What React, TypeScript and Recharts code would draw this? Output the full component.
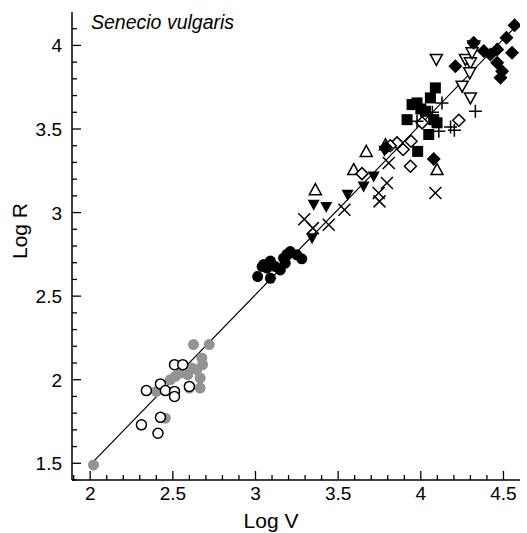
import { ScatterChart, Scatter, XAxis, YAxis, ReferenceLine } from "recharts";

// values (log V, log R)
const greyCircles = [
  { x: 2.02, y: 1.49 }, { x: 2.625, y: 2.21 }, { x: 2.72, y: 2.21 }, { x: 2.675, y: 2.13 },
  { x: 2.68, y: 2.09 }, { x: 2.645, y: 2.06 }, { x: 2.615, y: 2.07 }, { x: 2.545, y: 2.04 },
  { x: 2.515, y: 2.02 }, { x: 2.485, y: 2.0 }, { x: 2.665, y: 2.01 }, { x: 2.665, y: 1.95 },
  { x: 2.6, y: 1.95 }, { x: 2.4, y: 1.93 }, { x: 2.455, y: 1.77 }, { x: 2.565, y: 2.05 },
  { x: 2.59, y: 2.03 },
];
const openCircles = [
  { x: 2.51, y: 2.09 }, { x: 2.56, y: 2.09 }, { x: 2.425, y: 1.975 }, { x: 2.34, y: 1.935 },
  { x: 2.455, y: 1.935 }, { x: 2.51, y: 1.93 }, { x: 2.51, y: 1.9 }, { x: 2.6, y: 1.96 },
  { x: 2.425, y: 1.775 }, { x: 2.31, y: 1.73 }, { x: 2.41, y: 1.68 },
];
const blackCircles = [
  { x: 3.013, y: 2.617 }, { x: 3.09, y: 2.607 }, { x: 3.04, y: 2.677 }, { x: 3.09, y: 2.71 },
  { x: 3.07, y: 2.667 }, { x: 3.12, y: 2.677 }, { x: 3.17, y: 2.727 }, { x: 3.21, y: 2.767 },
  { x: 3.25, y: 2.747 }, { x: 3.28, y: 2.723 }, { x: 3.18, y: 2.697 }, { x: 3.15, y: 2.657 },
  { x: 3.19, y: 2.75 }, { x: 3.05, y: 2.69 },
];
const filledDownTriangles = [
  { x: 3.342, y: 2.847 }, { x: 3.352, y: 3.047 }, { x: 3.428, y: 3.033 }, { x: 3.557, y: 3.107 },
  { x: 3.654, y: 3.156 }, { x: 3.715, y: 3.216 }, { x: 3.78, y: 3.37 },
];
const crosses = [
  { x: 3.295, y: 2.96 }, { x: 3.347, y: 2.907 }, { x: 3.443, y: 2.927 }, { x: 3.538, y: 3.017 },
  { x: 3.795, y: 3.177 }, { x: 3.745, y: 3.117 }, { x: 3.75, y: 3.067 }, { x: 3.806, y: 3.297 },
  { x: 4.088, y: 3.117 },
];
const openUpTriangles = [
  { x: 3.362, y: 3.137 }, { x: 3.594, y: 3.257 }, { x: 3.67, y: 3.366 }, { x: 4.098, y: 3.257 },
  { x: 3.786, y: 3.406 },
];
const openDiamonds = [
  { x: 3.644, y: 3.233 }, { x: 3.937, y: 3.277 }, { x: 3.856, y: 3.417 }, { x: 3.893, y: 3.377 },
  { x: 3.941, y: 3.427 }, { x: 4.008, y: 3.537 }, { x: 4.23, y: 3.552 }, { x: 3.815, y: 3.4 },
];
const filledSquares = [
  { x: 4.088, y: 3.746 }, { x: 4.058, y: 3.686 }, { x: 3.947, y: 3.646 }, { x: 3.977, y: 3.656 },
  { x: 4.028, y: 3.606 }, { x: 3.917, y: 3.556 }, { x: 4.078, y: 3.556 }, { x: 4.098, y: 3.537 },
  { x: 4.048, y: 3.467 }, { x: 3.981, y: 3.366 }, { x: 4.0, y: 3.62 },
];
const plusSigns = [
  { x: 4.128, y: 3.656 }, { x: 4.109, y: 3.486 }, { x: 4.18, y: 3.512 }, { x: 4.203, y: 3.493 },
  { x: 4.33, y: 3.606 }, { x: 3.977, y: 3.547 }, { x: 4.07, y: 3.6 },
];
const openDownTriangles = [
  { x: 4.094, y: 3.916 }, { x: 4.25, y: 3.756 }, { x: 4.3, y: 3.686 }, { x: 4.27, y: 3.916 },
  { x: 4.3, y: 3.896 }, { x: 4.296, y: 3.836 }, { x: 4.32, y: 3.996 }, { x: 4.31, y: 3.956 },
];
const filledDiamonds = [
  { x: 4.209, y: 3.876 }, { x: 4.32, y: 4.016 }, { x: 4.381, y: 3.966 }, { x: 4.421, y: 3.946 },
  { x: 4.462, y: 3.896 }, { x: 4.492, y: 3.846 }, { x: 4.482, y: 3.806 }, { x: 4.552, y: 3.956 },
  { x: 4.518, y: 4.046 }, { x: 4.567, y: 4.12 }, { x: 4.462, y: 3.976 }, { x: 4.078, y: 3.321 },
  { x: 3.79, y: 3.39 },
];

// fitted line end points
const fitLine = [{ x: 2.0, y: 1.49 }, { x: 4.57, y: 4.11 }];

const xDomain = [1.89, 4.6];
const yDomain = [1.4, 4.2];
const xMajorTicks = [2, 2.5, 3, 3.5, 4, 4.5];
const yMajorTicks = [1.5, 2, 2.5, 3, 3.5, 4];
// minor ticks every 0.1
const xTicks = Array.from({ length: 27 }, (_, i) => Math.round((1.9 + i * 0.1) * 10) / 10);
const yTicks = Array.from({ length: 28 }, (_, i) => Math.round((1.4 + i * 0.1) * 10) / 10);

const FONT = "'Liberation Sans', Arial, sans-serif";
const GREY = "#939393";

const isMajor = (v: number, majors: number[]) => majors.some((m) => Math.abs(m - v) < 1e-6);

function XTick({ x, y, payload }: any) {
  const major = isMajor(payload.value, xMajorTicks);
  return (
    <g>
      <line x1={x} x2={x} y1={y} y2={y - (major ? 9 : 5)} stroke="#000" strokeWidth={1.3} />
      {major && (
        <text x={x} y={y + 20} textAnchor="middle" fontFamily={FONT} fontSize={19} fill="#000">
          {String(payload.value)}
        </text>
      )}
    </g>
  );
}

function YTick({ x, y, payload }: any) {
  const major = isMajor(payload.value, yMajorTicks);
  return (
    <g>
      <line x1={x} x2={x + (major ? 9 : 5)} y1={y} y2={y} stroke="#000" strokeWidth={1.3} />
      {major && (
        <text x={x - 10} y={y + 7} textAnchor="end" fontFamily={FONT} fontSize={19} fill="#000">
          {String(payload.value)}
        </text>
      )}
    </g>
  );
}

type Kind =
  | "greyCircle" | "openCircle" | "blackCircle" | "filledDown" | "cross" | "openUp"
  | "openDiamond" | "square" | "plus" | "openDown" | "filledDiamond";

function marker(kind: Kind) {
  return (props: any) => {
    const { cx, cy } = props;
    const sw = 1.5;
    switch (kind) {
      case "greyCircle":
        return <circle cx={cx} cy={cy} r={5.5} fill={GREY} />;
      case "openCircle":
        return <circle cx={cx} cy={cy} r={5} fill="#fff" stroke="#000" strokeWidth={sw} />;
      case "blackCircle":
        return <circle cx={cx} cy={cy} r={5.5} fill="#000" />;
      case "filledDown":
        return <path d={`M${cx - 6},${cy - 5}L${cx + 6},${cy - 5}L${cx},${cy + 6}Z`} fill="#000" />;
      case "openDown":
        return (
          <path d={`M${cx - 6},${cy - 5}L${cx + 6},${cy - 5}L${cx},${cy + 6}Z`} fill="#fff" stroke="#000" strokeWidth={sw} />
        );
      case "openUp":
        return (
          <path d={`M${cx - 6},${cy + 5}L${cx + 6},${cy + 5}L${cx},${cy - 6}Z`} fill="#fff" stroke="#000" strokeWidth={sw} />
        );
      case "cross":
        return (
          <path d={`M${cx - 6},${cy - 6}L${cx + 6},${cy + 6}M${cx - 6},${cy + 6}L${cx + 6},${cy - 6}`} stroke="#000" strokeWidth={sw} />
        );
      case "plus":
        return (
          <path d={`M${cx - 6.5},${cy}L${cx + 6.5},${cy}M${cx},${cy - 6.5}L${cx},${cy + 6.5}`} stroke="#000" strokeWidth={sw} />
        );
      case "openDiamond":
        return (
          <path d={`M${cx},${cy - 6}L${cx + 6},${cy}L${cx},${cy + 6}L${cx - 6},${cy}Z`} fill="#fff" stroke="#000" strokeWidth={sw} />
        );
      case "filledDiamond":
        return <path d={`M${cx},${cy - 7}L${cx + 7},${cy}L${cx},${cy + 7}L${cx - 7},${cy}Z`} fill="#000" />;
      case "square":
        return <rect x={cx - 5.5} y={cy - 5.5} width={11} height={11} fill="#000" />;
    }
    return null;
  };
}

const series: { name: string; data: { x: number; y: number }[]; kind: Kind }[] = [
  { name: "grey", data: greyCircles, kind: "greyCircle" },
  { name: "open", data: openCircles, kind: "openCircle" },
  { name: "black", data: blackCircles, kind: "blackCircle" },
  { name: "fdown", data: filledDownTriangles, kind: "filledDown" },
  { name: "cross", data: crosses, kind: "cross" },
  { name: "oup", data: openUpTriangles, kind: "openUp" },
  { name: "odiam", data: openDiamonds, kind: "openDiamond" },
  { name: "square", data: filledSquares, kind: "square" },
  { name: "plus", data: plusSigns, kind: "plus" },
  { name: "odown", data: openDownTriangles, kind: "openDown" },
  { name: "fdiam", data: filledDiamonds, kind: "filledDiamond" },
];

export default function App() {
  return (
    <div style={{ position: "absolute", left: 0, top: 0, width: 527, height: 533, background: "#fff" }}>
      <ScatterChart width={527} height={533} margin={{ top: 12, right: 7, bottom: 13, left: 12 }}>
        <XAxis
          type="number"
          dataKey="x"
          domain={xDomain}
          ticks={xTicks}
          interval={0}
          allowDataOverflow
          tickSize={0}
          tickMargin={0}
          tickLine={false}
          tick={<XTick />}
          height={40}
          axisLine={{ stroke: "#000", strokeWidth: 1.5 }}
        />
        <YAxis
          type="number"
          dataKey="y"
          domain={yDomain}
          ticks={yTicks}
          interval={0}
          allowDataOverflow
          tickSize={0}
          tickMargin={0}
          tickLine={false}
          tick={<YTick />}
          width={60}
          axisLine={{ stroke: "#000", strokeWidth: 1.5 }}
        />
        <ReferenceLine segment={fitLine} stroke="#000" strokeWidth={1.2} ifOverflow="visible" />
        {series.map((s) => (
          <Scatter key={s.name} name={s.name} data={s.data} shape={marker(s.kind)} isAnimationActive={false} />
        ))}
      </ScatterChart>
      <div
        style={{
          position: "absolute", left: 91, top: 10, fontFamily: FONT, fontStyle: "italic",
          fontSize: 19.5, lineHeight: "24px", whiteSpace: "nowrap",
        }}
      >
        Senecio vulgaris
      </div>
      <div
        style={{
          position: "absolute", left: 0, width: 542, top: 509, textAlign: "center",
          fontFamily: FONT, fontSize: 21, lineHeight: "24px",
        }}
      >
        Log V
      </div>
      <div style={{ position: "absolute", left: 20, top: 231, width: 0, height: 0 }}>
        <div
          style={{
            position: "absolute", left: -50, top: -12, width: 100, textAlign: "center",
            transform: "rotate(-90deg)", fontFamily: FONT, fontSize: 21, lineHeight: "24px",
          }}
        >
          Log R
        </div>
      </div>
    </div>
  );
}
